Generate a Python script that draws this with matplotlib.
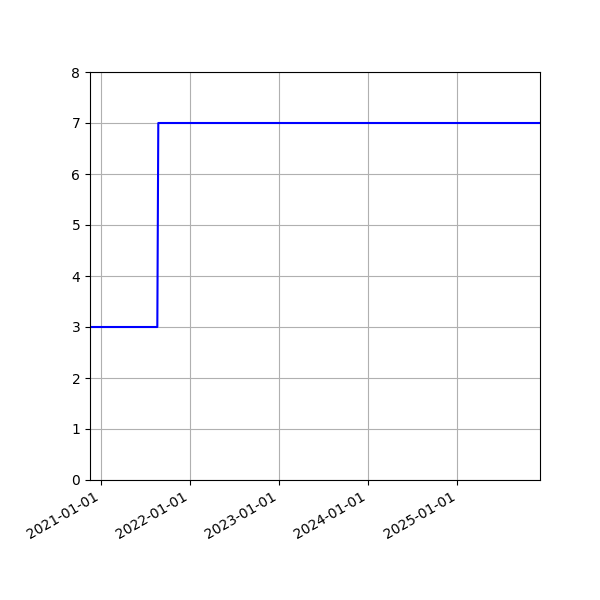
import pandas as pd
import matplotlib
matplotlib.use("Agg")
from matplotlib import pyplot as plt
import matplotlib.dates as mdates

dates = pd.to_datetime(["2020-11-17", "2021-08-20", "2021-08-24", "2025-12-06"])
values = [3, 3, 7, 7]

fig, ax = plt.subplots(figsize=(6, 6), dpi=100)
ax.plot(dates, values, color='blue')
ax.set_xlim(dates[0], dates[-1])
ax.set_ylim(0, 8)
ax.xaxis.set_major_locator(mdates.YearLocator())
ax.xaxis.set_major_formatter(mdates.DateFormatter('%Y-%m-%d'))
ax.grid(True)
fig.autofmt_xdate()
fig.subplots_adjust(left=0.15, right=0.9, top=0.88, bottom=0.2)
plt.savefig("out.png")
